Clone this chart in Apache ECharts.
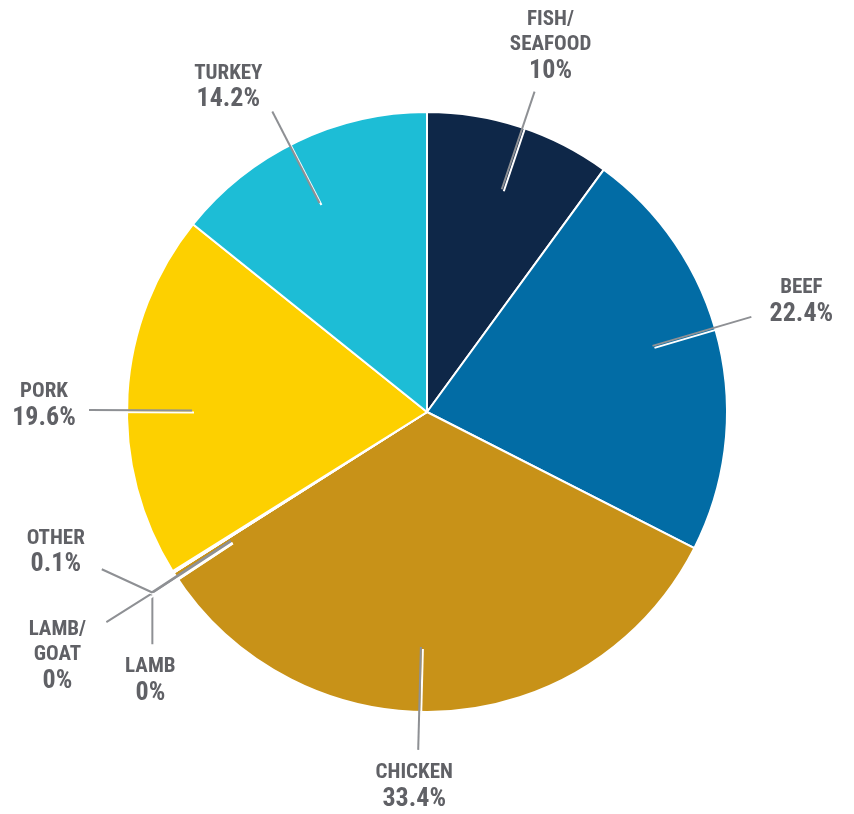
<!DOCTYPE html>
<html>
<head>
<meta charset="utf-8">
<script src="https://cdn.jsdelivr.net/npm/echarts@6/dist/echarts.min.js"></script>
<style>
  html, body { margin: 0; padding: 0; background: #fff; }
  #chart { width: 854px; height: 814px; }
</style>
</head>
<body>
<div id="chart"></div>
<script>
// slices, clockwise from 12 o'clock
var categories = ['FISH/\nSEAFOOD', 'BEEF', 'CHICKEN', 'LAMB', 'LAMB/\nGOAT', 'OTHER', 'PORK', 'TURKEY'];
var shares = [10, 22.4, 33.4, 0, 0, 0.1, 19.6, 14.2];
var colors = ['#0e2748', '#026ca5', '#c89218', '#c89218', '#c89218', '#8e9094', '#fdd000', '#1dbdd6'];

var cx = 427, cy = 412, R = 300;
var lineStart = 235, lineEnd = 338, knot = 329;
var font = "'Roboto Condensed', 'Liberation Sans Narrow', 'DejaVu Sans Condensed', Roboto, sans-serif";

// leader tweaks: turn = degrees off the slice middle, label = label centre relative to line end
var leaders = {
    0: { turn: 0.5, label: [16, -45] },
    1: { turn: -2.9, label: [50, -15] },
    2: { turn: 4.2, label: [-4, 37] },
    6: { turn: -3, label: [-45, -4] },
    7: { turn: -1.6, label: [-44, -24] }
};
// the three tiny slices share one knot and fan out
var callouts = {
    3: { end: [0, 51], label: [-2, 88] },
    4: { end: [-46, 29], label: [-95, 63] },
    5: { end: [-50, -23], label: [-96, -40] }
};

var total = shares.reduce(function (a, b) { return a + b; }, 0);
var midAngles = [];
var acc = 0;
for (var i = 0; i < shares.length; i++) {
    midAngles.push((acc + shares[i] / 2) / total * 360);
    acc += shares[i];
}

var data = categories.map(function (name, i) {
    return { name: name, value: shares[i], itemStyle: { color: colors[i] } };
});

function labelText(p) {
    var lines = p.name.split('\n').map(function (s) { return '{n|' + s + '}'; });
    return lines.join('\n') + '\n{v|' + p.value + '%}';
}

function placeLabel(params) {
    var i = params.dataIndex;
    var a = midAngles[i];
    if (leaders[i]) a += leaders[i].turn;
    if (callouts[i]) a -= 1;
    a = a * Math.PI / 180;
    var ux = Math.sin(a), uy = -Math.cos(a);
    var p0 = [cx + ux * lineStart, cy + uy * lineStart];
    var mid, end, lx, ly;
    if (callouts[i]) {
        mid = [cx + ux * knot, cy + uy * knot];
        end = [mid[0] + callouts[i].end[0], mid[1] + callouts[i].end[1]];
        lx = mid[0] + callouts[i].label[0];
        ly = mid[1] + callouts[i].label[1];
    } else {
        end = [cx + ux * lineEnd, cy + uy * lineEnd];
        mid = end;
        lx = end[0] + leaders[i].label[0];
        ly = end[1] + leaders[i].label[1];
    }
    return {
        x: lx, y: ly, align: 'center', verticalAlign: 'middle',
        labelLinePoints: [p0, mid, end]
    };
}

var chart = echarts.init(document.getElementById('chart'));
var option = {
    animation: false,
    series: [{
        type: 'pie',
        z: 2,
        center: [cx, cy],
        radius: R,
        startAngle: 90,
        clockwise: true,
        silent: true,
        itemStyle: { borderColor: '#fff', borderWidth: 2 },
        label: { show: false },
        labelLine: { show: false },
        data: data
    }, {
        // invisible copy that only carries the labels and their leader lines
        type: 'pie',
        z: 5,
        center: [cx, cy],
        radius: R,
        startAngle: 90,
        clockwise: true,
        silent: true,
        avoidLabelOverlap: false,
        itemStyle: { color: 'rgba(0,0,0,0)', borderWidth: 0 },
        label: {
            show: true,
            position: 'outside',
            formatter: labelText,
            color: '#606166',
            fontFamily: font,
            rich: {
                n: { fontSize: 21, lineHeight: 25, fontWeight: 'bold', color: '#606166', fontFamily: font },
                v: { fontSize: 26, lineHeight: 28, fontWeight: 'bold', color: '#606166', fontFamily: font }
            }
        },
        labelLine: {
            show: true,
            length: 10,
            length2: 10,
            lineStyle: {
                color: '#8e9094',
                width: 2,
                shadowColor: '#ffffff',
                shadowBlur: 0,
                shadowOffsetX: 2,
                shadowOffsetY: 2
            }
        },
        labelLayout: placeLabel,
        data: categories.map(function (name, i) {
            return { name: name, value: shares[i] };
        })
    }]
};
chart.setOption(option);
</script>
</body>
</html>
